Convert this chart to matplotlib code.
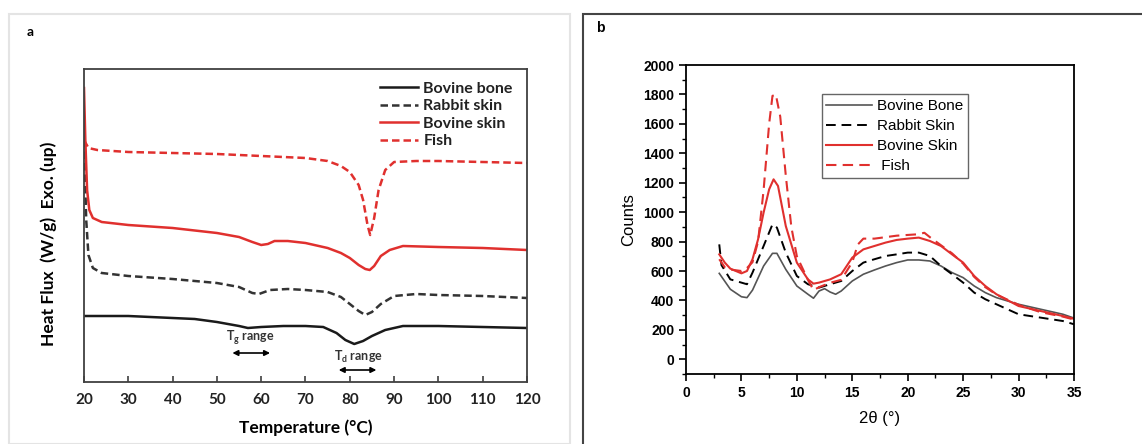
import numpy as np
import matplotlib
matplotlib.use("Agg")
import matplotlib.pyplot as plt
from matplotlib.patches import Rectangle
from matplotlib.ticker import MultipleLocator

# panel a : DSC thermograms (arbitrary offset units)
dsc_fish_t = [20, 21, 23, 30, 40, 50, 60, 70, 75, 78, 80, 82, 83, 84, 84.6,
              85.5, 86.5, 88, 90, 95, 100, 110, 120]
dsc_fish = [242, 234, 232, 230, 229, 228, 226, 224, 221, 216, 210, 197, 182,
            157, 147, 164, 192, 212, 220, 221, 221, 220, 219]

dsc_bskin_t = [20, 20.3, 20.7, 21.2, 22, 24, 30, 40, 50, 55, 58, 60, 61.5, 63,
               66, 70, 75, 78, 80, 82, 83.5, 84.5, 85.5, 87, 89, 92, 100, 110, 120]
dsc_bskin = [294, 242, 192, 172, 164, 160, 157, 154, 149, 145, 140, 137, 138,
             141, 141, 139, 134, 129, 124, 117, 113, 112, 116, 126, 132, 136,
             135, 134, 132]

dsc_rabbit_t = [20, 20.5, 21, 22, 24, 30, 40, 50, 55, 58, 59.5, 62, 66, 70, 75,
                78, 80, 82, 83.5, 85, 87, 90, 95, 100, 110, 120]
dsc_rabbit = [242, 162, 127, 114, 109, 106, 103, 99, 95, 89, 88, 92, 93, 92,
              90, 85, 78, 71, 67, 70, 78, 86, 88, 87, 86, 84]

dsc_bone_t = [20, 30, 40, 45, 50, 55, 57, 60, 65, 70, 74, 77, 79, 81, 83, 85,
              88, 92, 100, 110, 120]
dsc_bone = [66, 66, 64, 63, 60, 56, 54, 55, 56, 56, 55, 49, 42, 38, 41, 46,
            52, 56, 56, 55, 54]

# panel b : XRD patterns
xrd_bone_x = [3, 4, 5, 5.5, 6, 7, 7.8, 8.2, 9, 10, 11, 11.5, 12, 12.5, 13,
              13.5, 14, 15, 16, 17, 18, 19, 20, 21, 22, 23, 24, 25, 26, 27, 28,
              30, 32, 34, 35]
xrd_bone = [584, 476, 425, 419, 470, 634, 720, 720, 611, 498, 442, 415, 464,
            480, 457, 442, 464, 532, 578, 607, 634, 657, 675, 675, 668, 634,
            589, 555, 498, 453, 419, 374, 340, 306, 280]

xrd_rabbit_x = [3, 3.2, 4, 5, 5.5, 6, 7, 7.8, 8.2, 9, 10, 11, 12, 13, 14, 15,
                16, 17, 18, 19, 20, 21, 22, 23, 24, 25, 26, 27, 28, 30, 32, 34, 35]
xrd_rabbit = [781, 640, 543, 521, 510, 589, 770, 917, 895, 725, 566, 510, 487,
              510, 532, 600, 657, 680, 702, 713, 725, 725, 702, 634, 578, 521,
              453, 408, 374, 306, 283, 260, 238]

xrd_bskin_x = [3, 3.5, 4, 5, 5.5, 6, 6.5, 7, 7.5, 7.9, 8.3, 9, 10, 11, 11.5, 12,
               13, 14, 15, 16, 17, 18, 19, 20, 21, 22, 23, 24, 25, 26, 27, 28,
               30, 32, 34, 35]
xrd_bskin = [713, 657, 616, 584, 600, 680, 815, 997, 1155, 1223, 1178, 906,
             657, 543, 514, 521, 543, 578, 691, 747, 770, 793, 811, 820, 827,
             804, 770, 713, 657, 566, 498, 442, 362, 328, 294, 275]

xrd_fish_x = [3, 3.5, 4, 5, 5.5, 6, 6.5, 7, 7.5, 7.8, 8.1, 8.5, 9, 9.5, 10, 11,
              11.5, 12, 13, 14, 15, 15.5, 16, 17, 18, 19, 20, 21, 21.5, 22, 23,
              24, 25, 26, 27, 28, 30, 32, 34, 35]
xrd_fish = [680, 625, 610, 600, 620, 660, 800, 1150, 1600, 1790, 1800, 1650,
            1250, 900, 700, 540, 470, 490, 520, 540, 660, 780, 820, 820, 830,
            840, 845, 850, 860, 830, 775, 720, 650, 560, 490, 440, 370, 320,
            290, 270]

RED = "#e0302e"

fig = plt.figure(figsize=(11.42, 4.44), dpi=100)
H = 444.0
W = 1142.0

# panel frames
fig.patches.append(Rectangle((9 / W, 0), (570 - 9) / W, 1 - 14 / H - 0.0,
                             transform=fig.transFigure, fill=False,
                             edgecolor="#e4e4e4", lw=1.5))
fig.patches.append(Rectangle((583 / W, -0.01), 0.5, 1 - 14 / H + 0.01,
                             transform=fig.transFigure, fill=False,
                             edgecolor="#444444", lw=1.5))
fig.text(30 / W, 1 - 32 / H, "a", fontsize=10, fontweight="bold",
         family="Lato", va="center", ha="center")
fig.text(600 / W, 1 - 28 / H, "b", fontsize=10, fontweight="bold",
         family="Liberation Sans", va="center", ha="center")

# ---- panel a ----
axa = fig.add_axes([84 / W, 1 - 382 / H, (527 - 84) / W, (382 - 69) / H])
dash = (0, (3, 1.6))
axa.plot(dsc_bone_t, dsc_bone, color="#1a1a1a", lw=1.8, label="Bovine bone")
axa.plot(dsc_rabbit_t, dsc_rabbit, color="#333333", lw=1.8, linestyle=dash,
         label="Rabbit skin")
axa.plot(dsc_bskin_t, dsc_bskin, color=RED, lw=1.8, label="Bovine skin")
axa.plot(dsc_fish_t, dsc_fish, color=RED, lw=1.8, linestyle=dash, label="Fish")
axa.set_xlim(20, 120)
axa.set_ylim(0, 313)
axa.set_yticks([])
axa.xaxis.set_major_locator(MultipleLocator(10))
axa.tick_params(axis="x", direction="in", length=4, width=1.2,
                color="#404040", pad=8, labelsize=11)
for lab in axa.get_xticklabels():
    lab.set_fontweight("bold")
    lab.set_family("Lato")
    lab.set_color("#222222")
for s in axa.spines.values():
    s.set_color("#404040")
    s.set_linewidth(1.3)
axa.set_xlabel("Temperature (°C)", fontsize=12.5, fontweight="bold",
               family="Lato", labelpad=9)
axa.set_ylabel("Heat Flux  (W/g)  Exo. (up)", fontsize=12.5, fontweight="bold",
               family="Lato")
axa.yaxis.set_label_coords(-0.062, 0.44)

leg = axa.legend(loc="upper right", bbox_to_anchor=(1.0, 1.005),
                 frameon=False, handlelength=2.4, handletextpad=0.3,
                 labelspacing=0.2, prop={"family": "Lato", "weight": "bold",
                                         "size": 11.5})
for t in leg.get_texts():
    t.set_color("#222222")

axa.annotate("", xy=(53.5, 29), xytext=(62, 29),
             arrowprops=dict(arrowstyle="<|-|>", color="black", lw=1.2,
                             mutation_scale=8, shrinkA=0, shrinkB=0))
axa.annotate("", xy=(77.5, 12), xytext=(86, 12),
             arrowprops=dict(arrowstyle="<|-|>", color="black", lw=1.2,
                             mutation_scale=8, shrinkA=0, shrinkB=0))
axa.text(57.5, 44, r"T$_\mathregular{g}$ range", fontsize=9,
         fontweight="bold", family="Lato", ha="center", va="center",
         color="#333333")
axa.text(82, 25, r"T$_\mathregular{d}$ range", fontsize=9,
         fontweight="bold", family="Lato", ha="center", va="center",
         color="#333333")

# ---- panel b ----
axb = fig.add_axes([686 / W, 1 - 374 / H, (1074 - 686) / W, (374 - 65) / H])
axb.plot(xrd_bone_x, xrd_bone, color="#555555", lw=1.2, label="Bovine Bone")
axb.plot(xrd_rabbit_x, xrd_rabbit, color="black", lw=1.4,
         linestyle=(0, (5, 3)), label="Rabbit Skin")
axb.plot(xrd_bskin_x, xrd_bskin, color=RED, lw=1.5, label="Bovine Skin")
axb.plot(xrd_fish_x, xrd_fish, color=RED, lw=1.5, linestyle=(0, (5, 3)),
         label=" Fish")
axb.set_xlim(0, 35)
axb.set_ylim(-100, 2000)
axb.xaxis.set_major_locator(MultipleLocator(5))
axb.xaxis.set_minor_locator(MultipleLocator(2.5))
axb.yaxis.set_major_locator(MultipleLocator(200))
axb.yaxis.set_minor_locator(MultipleLocator(100))
axb.set_yticks(np.arange(0, 2001, 200))
axb.tick_params(which="major", direction="out", length=5, width=1.2,
                labelsize=10, top=False, right=False)
axb.tick_params(which="minor", direction="out", length=3, width=1.0,
                top=False, right=False)
for lab in axb.get_xticklabels() + axb.get_yticklabels():
    lab.set_fontweight("bold")
    lab.set_family("Liberation Sans")
for s in axb.spines.values():
    s.set_linewidth(1.3)
axb.set_xlabel("2θ (°)", fontsize=12, family="Liberation Sans", labelpad=8)
axb.set_ylabel("Counts", fontsize=12, family="Liberation Sans", labelpad=5)
legb = axb.legend(loc="upper left", bbox_to_anchor=(0.33, 0.93),
                  fancybox=False, edgecolor="#666666", framealpha=1,
                  handlelength=3.0, handletextpad=0.3, labelspacing=0.4,
                  borderpad=0.3, prop={"family": "Liberation Sans", "size": 11})
legb.get_frame().set_linewidth(1.0)

fig.savefig("out.png", dpi=100)
